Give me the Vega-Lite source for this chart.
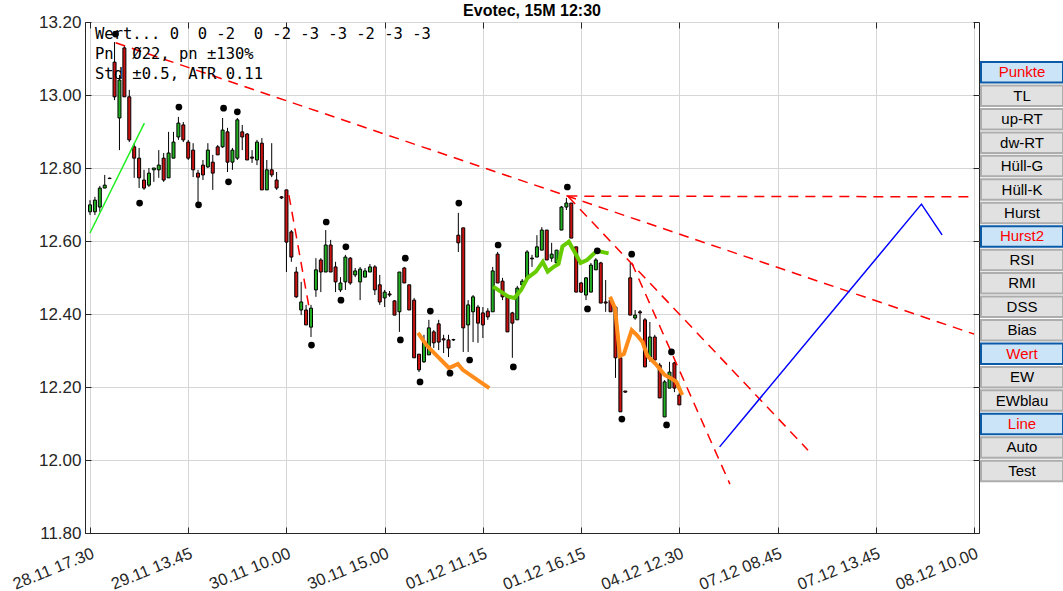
{
  "$schema": "https://vega.github.io/schema/vega-lite/v6.json",
  "background": "white",
  "padding": {"left": 9, "top": 2, "right": 0, "bottom": 0},
  "config": {
    "font": "Liberation Sans",
    "view": {"stroke": "#262626", "strokeWidth": 1},
    "axis": {"labelFont": "Liberation Sans", "labelColor": "#262626", "domainColor": "#262626", "tickColor": "#262626", "gridColor": "#d6d6d6", "gridWidth": 1}
  },
  "datasets": {
    "candles": [
      {"i":0,"o":12.680,"h":12.712,"l":12.671,"c":12.699},
      {"i":1,"o":12.680,"h":12.721,"l":12.671,"c":12.712},
      {"i":2,"o":12.693,"h":12.751,"l":12.680,"c":12.745},
      {"i":3,"o":12.745,"h":12.781,"l":12.745,"c":12.753},
      {"i":4,"o":12.772,"h":12.774,"l":12.770,"c":12.771},
      {"i":5,"o":13.090,"h":13.145,"l":12.986,"c":12.995},
      {"i":6,"o":12.937,"h":13.055,"l":12.849,"c":13.041},
      {"i":7,"o":13.129,"h":13.137,"l":12.995,"c":12.995},
      {"i":8,"o":12.995,"h":13.014,"l":12.871,"c":12.877},
      {"i":9,"o":12.858,"h":12.868,"l":12.773,"c":12.827},
      {"i":10,"o":12.827,"h":12.855,"l":12.745,"c":12.773},
      {"i":11,"o":12.767,"h":12.795,"l":12.740,"c":12.745},
      {"i":12,"o":12.753,"h":12.800,"l":12.748,"c":12.786},
      {"i":13,"o":12.795,"h":12.800,"l":12.762,"c":12.800},
      {"i":14,"o":12.795,"h":12.849,"l":12.773,"c":12.808},
      {"i":15,"o":12.827,"h":12.841,"l":12.762,"c":12.767},
      {"i":16,"o":12.773,"h":12.899,"l":12.773,"c":12.841},
      {"i":17,"o":12.827,"h":12.899,"l":12.827,"c":12.871},
      {"i":18,"o":12.885,"h":12.940,"l":12.877,"c":12.923},
      {"i":19,"o":12.918,"h":12.926,"l":12.871,"c":12.877},
      {"i":20,"o":12.871,"h":12.877,"l":12.822,"c":12.827},
      {"i":21,"o":12.849,"h":12.868,"l":12.775,"c":12.795},
      {"i":22,"o":12.786,"h":12.795,"l":12.699,"c":12.775},
      {"i":23,"o":12.808,"h":12.822,"l":12.767,"c":12.781},
      {"i":24,"o":12.803,"h":12.868,"l":12.800,"c":12.849},
      {"i":25,"o":12.816,"h":12.836,"l":12.740,"c":12.786},
      {"i":26,"o":12.858,"h":12.863,"l":12.836,"c":12.836},
      {"i":27,"o":12.858,"h":12.937,"l":12.855,"c":12.904},
      {"i":28,"o":12.899,"h":12.910,"l":12.789,"c":12.816},
      {"i":29,"o":12.816,"h":12.855,"l":12.795,"c":12.849},
      {"i":30,"o":12.827,"h":12.937,"l":12.822,"c":12.932},
      {"i":31,"o":12.899,"h":12.918,"l":12.849,"c":12.885},
      {"i":32,"o":12.893,"h":12.896,"l":12.822,"c":12.822},
      {"i":33,"o":12.830,"h":12.849,"l":12.814,"c":12.827},
      {"i":34,"o":12.822,"h":12.877,"l":12.808,"c":12.871},
      {"i":35,"o":12.868,"h":12.882,"l":12.740,"c":12.740},
      {"i":36,"o":12.740,"h":12.822,"l":12.740,"c":12.795},
      {"i":37,"o":12.795,"h":12.868,"l":12.775,"c":12.781},
      {"i":38,"o":12.767,"h":12.789,"l":12.740,"c":12.745},
      {"i":39,"o":12.721,"h":12.723,"l":12.715,"c":12.718},
      {"i":40,"o":12.740,"h":12.740,"l":12.515,"c":12.597},
      {"i":41,"o":12.625,"h":12.630,"l":12.543,"c":12.556},
      {"i":42,"o":12.515,"h":12.529,"l":12.444,"c":12.447},
      {"i":43,"o":12.411,"h":12.488,"l":12.397,"c":12.433},
      {"i":44,"o":12.411,"h":12.425,"l":12.370,"c":12.370},
      {"i":45,"o":12.364,"h":12.425,"l":12.337,"c":12.416},
      {"i":46,"o":12.466,"h":12.553,"l":12.447,"c":12.521},
      {"i":47,"o":12.548,"h":12.553,"l":12.460,"c":12.515},
      {"i":48,"o":12.515,"h":12.630,"l":12.515,"c":12.589},
      {"i":49,"o":12.589,"h":12.603,"l":12.515,"c":12.515},
      {"i":50,"o":12.529,"h":12.543,"l":12.460,"c":12.488},
      {"i":51,"o":12.466,"h":12.501,"l":12.460,"c":12.485},
      {"i":52,"o":12.488,"h":12.562,"l":12.466,"c":12.556},
      {"i":53,"o":12.553,"h":12.556,"l":12.480,"c":12.485},
      {"i":54,"o":12.507,"h":12.526,"l":12.501,"c":12.518},
      {"i":55,"o":12.488,"h":12.529,"l":12.438,"c":12.523},
      {"i":56,"o":12.501,"h":12.526,"l":12.501,"c":12.518},
      {"i":57,"o":12.515,"h":12.537,"l":12.515,"c":12.529},
      {"i":58,"o":12.529,"h":12.534,"l":12.452,"c":12.466},
      {"i":59,"o":12.480,"h":12.507,"l":12.425,"c":12.433},
      {"i":60,"o":12.444,"h":12.466,"l":12.419,"c":12.460},
      {"i":61,"o":12.455,"h":12.463,"l":12.447,"c":12.452},
      {"i":62,"o":12.436,"h":12.438,"l":12.397,"c":12.397},
      {"i":63,"o":12.406,"h":12.515,"l":12.351,"c":12.515},
      {"i":64,"o":12.526,"h":12.529,"l":12.485,"c":12.485},
      {"i":65,"o":12.480,"h":12.480,"l":12.411,"c":12.411},
      {"i":66,"o":12.438,"h":12.444,"l":12.280,"c":12.280},
      {"i":67,"o":12.290,"h":12.290,"l":12.241,"c":12.247},
      {"i":68,"o":12.269,"h":12.343,"l":12.266,"c":12.323},
      {"i":69,"o":12.288,"h":12.384,"l":12.288,"c":12.362},
      {"i":70,"o":12.351,"h":12.356,"l":12.307,"c":12.321},
      {"i":71,"o":12.373,"h":12.384,"l":12.301,"c":12.323},
      {"i":72,"o":12.332,"h":12.343,"l":12.293,"c":12.329},
      {"i":73,"o":12.329,"h":12.343,"l":12.282,"c":12.307},
      {"i":74,"o":12.330,"h":12.332,"l":12.326,"c":12.329},
      {"i":75,"o":12.616,"h":12.677,"l":12.570,"c":12.595},
      {"i":76,"o":12.636,"h":12.636,"l":12.296,"c":12.362},
      {"i":77,"o":12.370,"h":12.438,"l":12.296,"c":12.425},
      {"i":78,"o":12.406,"h":12.452,"l":12.323,"c":12.447},
      {"i":79,"o":12.419,"h":12.425,"l":12.321,"c":12.375},
      {"i":80,"o":12.403,"h":12.419,"l":12.334,"c":12.370},
      {"i":81,"o":12.408,"h":12.416,"l":12.384,"c":12.392},
      {"i":82,"o":12.406,"h":12.529,"l":12.406,"c":12.518},
      {"i":83,"o":12.564,"h":12.570,"l":12.485,"c":12.485},
      {"i":84,"o":12.490,"h":12.499,"l":12.438,"c":12.447},
      {"i":85,"o":12.447,"h":12.452,"l":12.351,"c":12.351},
      {"i":86,"o":12.403,"h":12.406,"l":12.280,"c":12.375},
      {"i":87,"o":12.384,"h":12.477,"l":12.384,"c":12.471},
      {"i":88,"o":12.480,"h":12.496,"l":12.474,"c":12.490},
      {"i":89,"o":12.499,"h":12.575,"l":12.499,"c":12.570},
      {"i":90,"o":12.553,"h":12.562,"l":12.529,"c":12.551},
      {"i":91,"o":12.556,"h":12.616,"l":12.556,"c":12.584},
      {"i":92,"o":12.575,"h":12.638,"l":12.575,"c":12.630},
      {"i":93,"o":12.630,"h":12.630,"l":12.548,"c":12.548},
      {"i":94,"o":12.553,"h":12.595,"l":12.543,"c":12.564},
      {"i":95,"o":12.540,"h":12.575,"l":12.534,"c":12.575},
      {"i":96,"o":12.630,"h":12.696,"l":12.630,"c":12.693},
      {"i":97,"o":12.693,"h":12.718,"l":12.685,"c":12.704},
      {"i":98,"o":12.704,"h":12.704,"l":12.608,"c":12.608},
      {"i":99,"o":12.584,"h":12.584,"l":12.460,"c":12.460},
      {"i":100,"o":12.485,"h":12.488,"l":12.458,"c":12.460},
      {"i":101,"o":12.452,"h":12.501,"l":12.438,"c":12.499},
      {"i":102,"o":12.460,"h":12.540,"l":12.460,"c":12.534},
      {"i":103,"o":12.521,"h":12.553,"l":12.521,"c":12.548},
      {"i":104,"o":12.540,"h":12.543,"l":12.430,"c":12.430},
      {"i":105,"o":12.433,"h":12.493,"l":12.406,"c":12.430},
      {"i":106,"o":12.438,"h":12.447,"l":12.406,"c":12.406},
      {"i":107,"o":12.419,"h":12.419,"l":12.225,"c":12.280},
      {"i":108,"o":12.280,"h":12.280,"l":12.132,"c":12.132},
      {"i":109,"o":12.189,"h":12.189,"l":12.184,"c":12.186},
      {"i":110,"o":12.499,"h":12.540,"l":12.397,"c":12.397},
      {"i":111,"o":12.389,"h":12.411,"l":12.384,"c":12.397},
      {"i":112,"o":12.406,"h":12.411,"l":12.351,"c":12.403},
      {"i":113,"o":12.384,"h":12.389,"l":12.255,"c":12.255},
      {"i":114,"o":12.282,"h":12.378,"l":12.269,"c":12.337},
      {"i":115,"o":12.337,"h":12.343,"l":12.274,"c":12.274},
      {"i":116,"o":12.260,"h":12.266,"l":12.170,"c":12.170},
      {"i":117,"o":12.118,"h":12.219,"l":12.118,"c":12.214},
      {"i":118,"o":12.197,"h":12.269,"l":12.197,"c":12.241},
      {"i":119,"o":12.266,"h":12.269,"l":12.186,"c":12.197},
      {"i":120,"o":12.178,"h":12.186,"l":12.151,"c":12.151}
    ],
    "dots": [
      {"i":5.2,"p":13.167},{"i":18.1,"p":12.967},{"i":10.1,"p":12.704},{"i":22.1,"p":12.699},
      {"i":27.2,"p":12.964},{"i":30.0,"p":12.954},{"i":28.2,"p":12.762},{"i":48.1,"p":12.652},
      {"i":45.1,"p":12.315},{"i":52.1,"p":12.584},{"i":51.1,"p":12.438},{"i":64.2,"p":12.553},
      {"i":63.2,"p":12.329},{"i":67.2,"p":12.214},{"i":69.3,"p":12.408},{"i":73.3,"p":12.238},
      {"i":77.3,"p":12.274},{"i":75.1,"p":12.704},{"i":83.1,"p":12.589},{"i":86.2,"p":12.255},
      {"i":97.2,"p":12.748},{"i":101.3,"p":12.414},{"i":103.3,"p":12.573},{"i":110.3,"p":12.564},
      {"i":108.3,"p":12.112},{"i":118.4,"p":12.296},{"i":117.4,"p":12.096}
    ],
    "trend": [
      {"g":1,"i":5.23,"p":13.143},{"g":1,"i":180,"p":12.345},
      {"g":2,"i":97.2,"p":12.723},{"g":2,"i":180,"p":12.721},
      {"g":3,"i":97.4,"p":12.721},{"g":3,"i":146.2,"p":12.027},
      {"g":4,"i":110.3,"p":12.540},{"g":4,"i":130.3,"p":11.934},
      {"g":5,"i":40.5,"p":12.726},{"g":5,"i":44.7,"p":12.411}
    ],
    "lime": [{"i":0,"p":12.622},{"i":11.07,"p":12.923}],
    "hurst": [
      {"i":82.1,"p":12.475},{"i":85.1,"p":12.448},{"i":86.4,"p":12.444},{"i":87.8,"p":12.466},
      {"i":89.1,"p":12.499},{"i":90.8,"p":12.516},{"i":92.2,"p":12.543},{"i":93.2,"p":12.516},
      {"i":94.5,"p":12.530},{"i":95.4,"p":12.537},{"i":96.2,"p":12.585},{"i":97.5,"p":12.598},
      {"i":99.9,"p":12.540},{"i":101.2,"p":12.548},{"i":103.2,"p":12.573},{"i":105.6,"p":12.566}
    ],
    "orange": [
      {"g":1,"i":66.8,"p":12.348},{"g":1,"i":68.5,"p":12.315},{"g":1,"i":70.3,"p":12.290},
      {"g":1,"i":73.1,"p":12.252},{"g":1,"i":74.9,"p":12.263},{"g":1,"i":75.9,"p":12.247},
      {"g":1,"i":81.3,"p":12.197},
      {"g":2,"i":105.9,"p":12.447},{"g":2,"i":106.9,"p":12.416},{"g":2,"i":107.9,"p":12.285},
      {"g":2,"i":108.7,"p":12.290},{"g":2,"i":110.3,"p":12.356},{"g":2,"i":111.3,"p":12.343},
      {"g":2,"i":112.5,"p":12.323},{"g":2,"i":113.5,"p":12.285},{"g":2,"i":115.2,"p":12.263},
      {"g":2,"i":117.0,"p":12.233},{"g":2,"i":118.2,"p":12.225},{"g":2,"i":119.4,"p":12.214},
      {"g":2,"i":120.6,"p":12.178}
    ],
    "blue": [{"i":128.2,"p":12.036},{"i":169.3,"p":12.701},{"i":173.5,"p":12.617}],
    "buttons": [
      {"label":"Punkte","state":"on"},{"label":"TL","state":"off"},{"label":"up-RT","state":"off"},
      {"label":"dw-RT","state":"off"},{"label":"Hüll-G","state":"off"},{"label":"Hüll-K","state":"off"},
      {"label":"Hurst","state":"off"},{"label":"Hurst2","state":"on"},{"label":"RSI","state":"off"},
      {"label":"RMI","state":"off"},{"label":"DSS","state":"off"},{"label":"Bias","state":"off"},
      {"label":"Wert","state":"on"},{"label":"EW","state":"off"},{"label":"EWblau","state":"off"},
      {"label":"Line","state":"on"},{"label":"Auto","state":"off"},{"label":"Test","state":"off"}
    ]
  },
  "bounds": "flush",
  "spacing": 2,
  "hconcat": [
    {
      "width": 894,
      "height": 511,
      "title": {"text": "Evotec, 15M 12:30", "frame": "group", "fontSize": 16, "fontWeight": "bold", "color": "black", "offset": -6},
      "resolve": {"axis": {"x": "independent", "y": "independent"}},
      "layer": [
        {
          "data": {"name": "candles"},
          "mark": {"type": "rule", "color": "black", "strokeWidth": 1},
          "encoding": {
            "x": {"field": "i", "type": "quantitative", "scale": {"domain": [0, 180], "nice": false, "zero": false},
              "axis": {"title": null, "values": [0,20,40,60,80,100,120,140,160,180],
                "labelExpr": "['28.11 17.30','29.11 13.45','30.11 10.00','30.11 15.00','01.12 11.15','01.12 16.15','04.12 12.30','07.12 08.45','07.12 13.45','08.12 10.00'][round(datum.value/20)]",
                "labelAngle": -22, "labelAlign": "right", "labelBaseline": "top", "labelFontSize": 16.5, "labelPadding": 18,
                "tickSize": -6, "grid": true}},
            "y": {"field": "l", "type": "quantitative", "scale": {"domain": [11.8, 13.2], "nice": false, "zero": false},
              "axis": {"title": null, "values": [11.8,12.0,12.2,12.4,12.6,12.8,13.0,13.2], "format": ".2f",
                "labelFontSize": 17, "labelPadding": 10, "tickSize": -6, "grid": true}},
            "y2": {"field": "h"}
          }
        },
        {
          "data": {"name": "candles"},
          "mark": {"type": "bar", "size": 3, "stroke": "black", "strokeWidth": 1},
          "encoding": {
            "x": {"field": "i", "type": "quantitative", "axis": null},
            "y": {"field": "o", "type": "quantitative", "axis": null},
            "y2": {"field": "c"},
            "fill": {"condition": {"test": "datum.c >= datum.o", "value": "#22b022"}, "value": "#cc1111"}
          }
        },
        {
          "data": {"name": "lime"},
          "mark": {"type": "line", "color": "#22ee22", "strokeWidth": 1.5},
          "encoding": {"x": {"field": "i", "type": "quantitative", "axis": null}, "y": {"field": "p", "type": "quantitative", "axis": null}}
        },
        {
          "data": {"name": "hurst"},
          "mark": {"type": "line", "color": "#66cc00", "strokeWidth": 4},
          "encoding": {"x": {"field": "i", "type": "quantitative", "axis": null}, "y": {"field": "p", "type": "quantitative", "axis": null}}
        },
        {
          "data": {"name": "orange"},
          "mark": {"type": "line", "color": "#ff8c1a", "strokeWidth": 4},
          "encoding": {"x": {"field": "i", "type": "quantitative", "axis": null}, "y": {"field": "p", "type": "quantitative", "axis": null}, "detail": {"field": "g", "type": "nominal"}}
        },
        {
          "data": {"name": "trend"},
          "mark": {"type": "line", "color": "#ff0000", "strokeWidth": 1.5, "strokeDash": [10, 7]},
          "encoding": {"x": {"field": "i", "type": "quantitative", "axis": null}, "y": {"field": "p", "type": "quantitative", "axis": null}, "detail": {"field": "g", "type": "nominal"}}
        },
        {
          "data": {"name": "blue"},
          "mark": {"type": "line", "color": "#0000ff", "strokeWidth": 1.5},
          "encoding": {"x": {"field": "i", "type": "quantitative", "axis": null}, "y": {"field": "p", "type": "quantitative", "axis": null}}
        },
        {
          "data": {"name": "dots"},
          "mark": {"type": "point", "filled": true, "color": "black", "size": 45, "opacity": 1},
          "encoding": {
            "x": {"field": "i", "type": "quantitative",
              "axis": {"orient": "top", "title": null, "labels": false, "grid": false, "domain": false, "tickSize": -6, "values": [0,20,40,60,80,100,120,140,160,180]}},
            "y": {"field": "p", "type": "quantitative",
              "axis": {"orient": "right", "title": null, "labels": false, "grid": false, "domain": false, "tickSize": -6, "values": [11.8,12.0,12.2,12.4,12.6,12.8,13.0,13.2]}}
          }
        },
        {
          "data": {"values": [{}]},
          "mark": {"type": "text", "font": "DejaVu Sans Mono", "fontSize": 15.5, "align": "left", "baseline": "top", "lineHeight": 20, "dx": 5, "dy": 5, "color": "black"},
          "encoding": {
            "x": {"datum": 0, "type": "quantitative", "axis": null},
            "y": {"datum": 13.2, "type": "quantitative", "axis": null},
            "text": {"value": ["Wert... 0 \u00a00 -2 \u00a00 -2 -3 -3 -2 -3 -3", "Pn \u00a0Ø22, pn ±130%", "Std ±0.5, ATR 0.11"]}
          }
        }
      ]
    },
    {
      "width": 82,
      "height": 511,
      "view": {"stroke": null},
      "data": {"name": "buttons"},
      "encoding": {
        "y": {"field": "label", "type": "nominal", "axis": null,
          "scale": {"domain": ["_top","Punkte","TL","up-RT","dw-RT","Hüll-G","Hüll-K","Hurst","Hurst2","RSI","RMI","DSS","Bias","Wert","EW","EWblau","Line","Auto","Test","_bot"],
            "paddingInner": 0.126, "paddingOuter": 0.958, "align": 0.369}}
      },
      "layer": [
        {
          "mark": {"type": "rect", "strokeWidth": 2},
          "encoding": {
            "fill": {"field": "state", "type": "nominal", "scale": {"domain": ["on", "off"], "range": ["#cce4f7", "#e1e1e1"]}, "legend": null},
            "stroke": {"field": "state", "type": "nominal", "scale": {"domain": ["on", "off"], "range": ["#0a5aa8", "#adadad"]}, "legend": null}
          }
        },
        {
          "mark": {"type": "text", "fontSize": 15, "font": "Liberation Sans", "baseline": "middle", "align": "center"},
          "encoding": {
            "text": {"field": "label"},
            "color": {"field": "state", "type": "nominal", "scale": {"domain": ["on", "off"], "range": ["#ff0000", "#000000"]}, "legend": null}
          }
        }
      ]
    }
  ]
}
